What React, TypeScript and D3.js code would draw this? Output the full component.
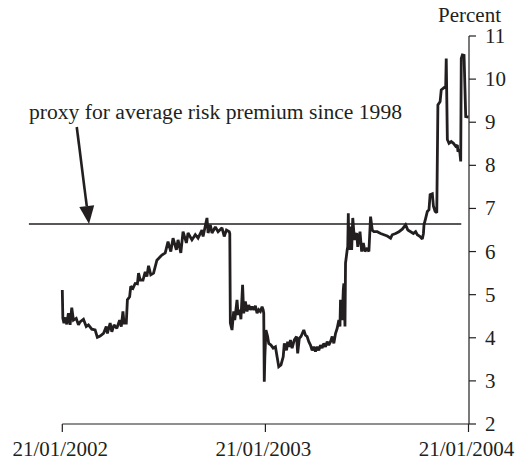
import React from "react";
import * as d3 from "d3";

const series2002: [string, number][] = [
  ["2002-01-21", 5.11], ["2002-01-22", 4.45], ["2002-01-24", 4.34], ["2002-01-27", 4.47], ["2002-01-29", 4.31],
  ["2002-02-01", 4.57], ["2002-02-04", 4.3], ["2002-02-07", 4.7], ["2002-02-10", 4.41], ["2002-02-15", 4.45],
  ["2002-02-19", 4.3], ["2002-02-22", 4.37], ["2002-02-28", 4.43], ["2002-03-05", 4.26], ["2002-03-09", 4.3],
  ["2002-03-15", 4.2], ["2002-03-21", 4.18], ["2002-03-25", 4.01], ["2002-03-30", 4.04], ["2002-04-05", 4.1],
  ["2002-04-10", 4.26], ["2002-04-12", 4.1], ["2002-04-17", 4.34], ["2002-04-20", 4.14], ["2002-04-24", 4.3],
  ["2002-04-29", 4.22], ["2002-05-04", 4.41], ["2002-05-07", 4.26], ["2002-05-10", 4.61], ["2002-05-12", 4.34],
  ["2002-05-16", 4.34], ["2002-05-18", 4.88], ["2002-05-22", 4.95], ["2002-05-24", 5.19], ["2002-05-28", 5.15],
  ["2002-06-01", 5.26], ["2002-06-05", 5.25], ["2002-06-07", 5.5], ["2002-06-10", 5.34], ["2002-06-15", 5.34],
  ["2002-06-19", 5.53], ["2002-06-22", 5.42], ["2002-06-25", 5.67], ["2002-06-29", 5.46], ["2002-07-04", 5.5],
  ["2002-07-10", 5.8], ["2002-07-19", 5.92], ["2002-07-25", 5.97], ["2002-07-30", 6.23], ["2002-08-04", 6.0],
  ["2002-08-08", 6.31], ["2002-08-14", 6.04], ["2002-08-17", 6.27], ["2002-08-22", 5.97], ["2002-08-26", 6.46],
  ["2002-09-01", 6.2], ["2002-09-04", 6.43], ["2002-09-11", 6.27], ["2002-09-17", 6.39], ["2002-09-22", 6.31],
  ["2002-09-29", 6.5], ["2002-10-01", 6.35], ["2002-10-08", 6.78], ["2002-10-10", 6.43], ["2002-10-14", 6.62],
  ["2002-10-17", 6.43], ["2002-10-23", 6.57], ["2002-10-28", 6.46], ["2002-11-04", 6.55], ["2002-11-08", 6.35],
  ["2002-11-12", 6.5], ["2002-11-17", 6.46], ["2002-11-18", 6.42], ["2002-11-19", 4.34], ["2002-11-22", 4.18],
  ["2002-11-25", 4.61], ["2002-11-27", 4.41], ["2002-12-01", 4.88], ["2002-12-03", 4.53], ["2002-12-06", 4.65],
  ["2002-12-08", 4.43], ["2002-12-11", 5.23], ["2002-12-13", 4.57], ["2002-12-16", 4.84], ["2002-12-19", 4.61],
  ["2002-12-22", 4.76], ["2002-12-25", 4.65], ["2002-12-28", 4.72], ["2002-12-31", 4.65],
];

const series2003: [string, number][] = [
  ["2003-01-03", 4.74], ["2003-01-06", 4.57], ["2003-01-09", 4.65], ["2003-01-12", 4.61], ["2003-01-15", 4.72],
  ["2003-01-17", 4.65], ["2003-01-18", 4.57], ["2003-01-19", 2.98], ["2003-01-20", 3.56], ["2003-01-22", 4.18],
  ["2003-01-25", 4.03], ["2003-01-27", 3.87], ["2003-01-31", 3.83], ["2003-02-04", 3.76], ["2003-02-08", 3.79],
  ["2003-02-11", 3.56], ["2003-02-14", 3.33], ["2003-02-18", 3.37], ["2003-02-22", 3.56], ["2003-02-24", 3.87],
  ["2003-02-28", 3.71], ["2003-03-02", 3.91], ["2003-03-05", 3.79], ["2003-03-07", 3.95], ["2003-03-10", 3.76],
  ["2003-03-14", 3.95], ["2003-03-18", 4.03], ["2003-03-20", 3.64], ["2003-03-23", 3.99], ["2003-03-26", 4.03],
  ["2003-03-31", 4.18], ["2003-04-03", 4.06], ["2003-04-06", 4.03], ["2003-04-09", 3.91], ["2003-04-12", 3.83],
  ["2003-04-15", 3.71], ["2003-04-18", 3.79], ["2003-04-21", 3.68], ["2003-04-24", 3.79], ["2003-04-27", 3.71],
  ["2003-04-30", 3.83], ["2003-05-03", 3.76], ["2003-05-06", 3.87], ["2003-05-09", 3.79], ["2003-05-12", 3.91],
  ["2003-05-15", 3.83], ["2003-05-18", 3.91], ["2003-05-21", 4.03], ["2003-05-24", 3.87], ["2003-05-27", 4.1],
  ["2003-05-30", 4.22], ["2003-06-02", 4.41], ["2003-06-04", 4.26], ["2003-06-05", 4.88], ["2003-06-08", 4.41],
  ["2003-06-10", 5.11], ["2003-06-11", 5.26], ["2003-06-13", 4.26], ["2003-06-14", 5.73], ["2003-06-17", 6.04],
  ["2003-06-18", 6.11], ["2003-06-19", 6.89], ["2003-06-20", 6.04], ["2003-06-23", 6.58], ["2003-06-25", 6.04],
  ["2003-06-27", 6.78], ["2003-06-30", 6.27], ["2003-07-04", 6.43], ["2003-07-06", 6.11], ["2003-07-10", 6.46],
  ["2003-07-13", 6.0], ["2003-07-16", 6.2], ["2003-07-19", 6.0], ["2003-07-23", 6.08], ["2003-07-26", 6.0],
  ["2003-07-29", 6.81], ["2003-08-01", 6.5], ["2003-08-04", 6.46], ["2003-08-10", 6.46], ["2003-08-16", 6.42],
  ["2003-08-22", 6.39], ["2003-08-28", 6.36], ["2003-09-03", 6.31], ["2003-09-06", 6.39], ["2003-09-12", 6.42],
  ["2003-09-18", 6.46], ["2003-09-24", 6.52], ["2003-09-30", 6.62], ["2003-10-04", 6.5], ["2003-10-09", 6.46],
  ["2003-10-14", 6.42], ["2003-10-18", 6.46], ["2003-10-21", 6.39], ["2003-10-26", 6.35], ["2003-10-30", 6.29],
  ["2003-11-01", 6.42], ["2003-11-02", 6.62], ["2003-11-05", 6.77], ["2003-11-08", 6.93], ["2003-11-11", 6.97],
  ["2003-11-13", 7.32], ["2003-11-17", 7.34], ["2003-11-19", 7.05], ["2003-11-22", 6.93], ["2003-11-25", 6.9],
  ["2003-11-27", 9.4], ["2003-12-01", 9.48], ["2003-12-03", 9.75], ["2003-12-07", 9.79], ["2003-12-11", 9.83],
  ["2003-12-12", 10.48], ["2003-12-14", 8.6], ["2003-12-17", 8.51], ["2003-12-21", 8.55], ["2003-12-25", 8.51],
  ["2003-12-29", 8.44],
];

const series2004: [string, number][] = [
  ["2004-01-01", 8.47], ["2004-01-02", 8.32], ["2004-01-05", 8.36], ["2004-01-07", 8.09], ["2004-01-08", 10.48],
  ["2004-01-10", 10.56], ["2004-01-13", 10.55], ["2004-01-16", 9.13], ["2004-01-21", 9.12],
];

const xTickDates = ["2002-01-21", "2003-01-21", "2004-01-21"];
const xTickLabels = ["21/01/2002", "21/01/2003", "21/01/2004"];
const yTicks = [2, 3, 4, 5, 6, 7, 8, 9, 10, 11];
const proxyLevel = 6.64;
const proxySpan = ["2001-11-22", "2004-01-08"];
const arrowFrom: [string, number] = ["2002-02-16", 8.89];
const arrowTo: [string, number] = ["2002-03-10", proxyLevel];
const annotation = "proxy for average risk premium since 1998";
const unitLabel = "Percent";

const W = 515;
const H = 461;
const INK = "#231f20";
const FONT = "'Liberation Serif', 'Times New Roman', serif";

export default function App() {
  const parse = d3.timeParse("%Y-%m-%d");
  const data = [...series2002, ...series2003, ...series2004].map(([d, v]) => ({ date: parse(d) as Date, value: v }));

  const x = d3.scaleTime()
    .domain([parse(xTickDates[0]) as Date, parse(xTickDates[2]) as Date])
    .range([62.3, 468.5]);
  const y = d3.scaleLinear().domain([2, 11]).range([424, 36]);

  const line = d3.line<{ date: Date; value: number }>()
    .x((d) => x(d.date))
    .y((d) => y(d.value));

  const axisX = x.range()[1] + 0.5;
  const baseY = y(2);

  const ax0 = x(parse(arrowFrom[0]) as Date);
  const ay0 = y(arrowFrom[1]);
  const ax1 = x(parse(arrowTo[0]) as Date);
  const ay1 = y(arrowTo[1]);
  const ang = Math.atan2(ay1 - ay0, ax1 - ax0);
  const headLen = 18;
  const headW = 7.5;
  const bx = ax1 - headLen * Math.cos(ang);
  const by = ay1 - headLen * Math.sin(ang);
  const px = -Math.sin(ang) * headW;
  const py = Math.cos(ang) * headW;

  return (
    <svg width={W} height={H} style={{ position: "absolute", left: 0, top: 0, background: "#fff" }}>
      <rect width={W} height={H} fill="#fff" />
      {/* x axis */}
      <line x1={x.range()[0]} x2={axisX} y1={baseY} y2={baseY} stroke={INK} strokeWidth={1.2} />
      {xTickDates.map((d, i) => {
        const xx = x(parse(d) as Date);
        return (
          <g key={d}>
            <line x1={xx} x2={xx} y1={baseY} y2={baseY + 8} stroke={INK} strokeWidth={1.2} />
            <text x={xx - 2} y={456} textAnchor="middle" fontFamily={FONT} fontSize={21} fill={INK}>
              {xTickLabels[i]}
            </text>
          </g>
        );
      })}
      {/* y axis */}
      <line x1={axisX} x2={axisX} y1={y(11)} y2={baseY} stroke={INK} strokeWidth={1.2} />
      {yTicks.map((t) => (
        <g key={t}>
          <line x1={axisX} x2={axisX + 7} y1={y(t)} y2={y(t)} stroke={INK} strokeWidth={1.2} />
          <text x={485} y={y(t) + 7} fontFamily={FONT} fontSize={21} fill={INK}>{t}</text>
        </g>
      ))}
      <text x={501} y={22} textAnchor="end" fontFamily={FONT} fontSize={21} fill={INK}>{unitLabel}</text>
      {/* proxy line */}
      <line
        x1={x(parse(proxySpan[0]) as Date)}
        x2={x(parse(proxySpan[1]) as Date)}
        y1={y(proxyLevel)}
        y2={y(proxyLevel)}
        stroke={INK}
        strokeWidth={1.6}
      />
      {/* annotation */}
      <text x={29} y={119} fontFamily={FONT} fontSize={21.6} fill={INK}>{annotation}</text>
      <line x1={ax0} y1={ay0} x2={bx} y2={by} stroke={INK} strokeWidth={2.6} />
      <polygon points={`${ax1},${ay1} ${bx + px},${by + py} ${bx - px},${by - py}`} fill={INK} />
      {/* series */}
      <path d={line(data) || ""} fill="none" stroke={INK} strokeWidth={2.8} strokeLinejoin="miter" strokeMiterlimit={2} />
    </svg>
  );
}
